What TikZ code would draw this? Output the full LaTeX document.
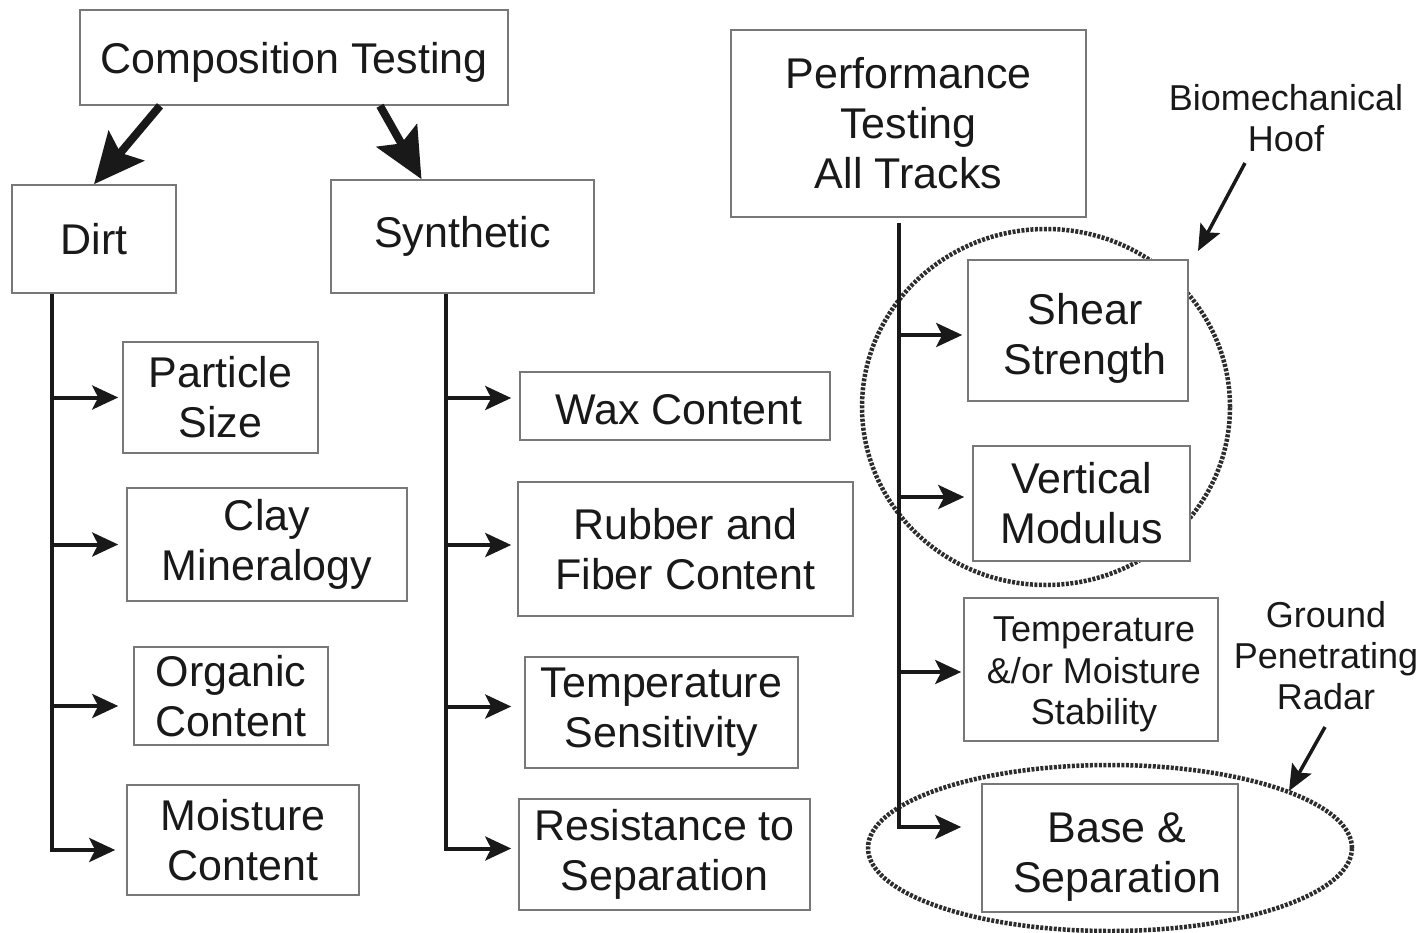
\documentclass[tikz,border=0pt]{standalone}
\usepackage{fontspec}
\setmainfont{Liberation Sans}
\usetikzlibrary{arrows.meta}
\definecolor{boxgray}{RGB}{120,120,120}
\definecolor{ringgray}{RGB}{45,45,45}
\definecolor{txt}{RGB}{25,25,25}
\begin{document}
\begin{tikzpicture}[x=1pt,y=-1pt,
  box/.style={draw=boxgray, line width=1.6pt, fill=white, align=center, inner sep=0pt, text=txt, font=\fontsize{43}{50}\selectfont},
  sbox/.style={box, font=\fontsize{36}{41.5}\selectfont},
  btext/.style={align=center, inner sep=0pt, text=txt, font=\fontsize{43}{50}\selectfont},
  stext/.style={btext, font=\fontsize{36}{41.5}\selectfont},
  note/.style={align=center, text=txt, inner sep=0pt, font=\fontsize{36}{41}\selectfont},
  arr/.style={line width=4pt, draw=black!90, -{Stealth[length=26pt,width=24pt,inset=6pt]}},
  bigarr/.style={line width=8pt, draw=black!90, -{Stealth[length=50pt,width=46pt,inset=9pt]}},
  notearr/.style={line width=3.5pt, draw=black!90, -{Stealth[length=26pt,width=22pt,inset=5pt]}},
  ring/.style={draw=ringgray, line width=4.5pt, dash pattern=on 3pt off 1.5pt}]
\useasboundingbox (0,0) rectangle (1426,933);

% ellipses
\draw[ring] (1046,407) ellipse [x radius=184pt, y radius=178pt];
\draw[ring] (1110,848) ellipse [x radius=242pt, y radius=83pt];

% top boxes
\node[box, minimum width=428pt, minimum height=95pt] (comp) at (294,57.5) {};
\node[btext] (compT) at ([yshift=-5pt]comp.center) {Composition Testing};
\node[box, minimum width=164pt, minimum height=108pt] (dirt) at (94,239) {Dirt};
\node[box, minimum width=263pt, minimum height=113pt] (syn) at (462.5,236.5) {Synthetic};
\node[box, minimum width=355pt, minimum height=187pt] (perf) at (908.5,123.5) {Performance\\Testing\\All Tracks};

% dirt children
\node[box, minimum width=195pt, minimum height=111pt] (ps) at (220.5,397.5) {Particle\\Size};
\node[box, minimum width=280pt, minimum height=113pt] (cm) at (267,544.5) {Clay\\Mineralogy};
\node[box, minimum width=194pt, minimum height=98pt] (oc) at (231,696) {Organic\\Content};
\node[box, minimum width=232pt, minimum height=110pt] (mc) at (243,840) {Moisture\\Content};

% synthetic children
\node[box, minimum width=310pt, minimum height=68pt] (wax) at (675,406) {};
\node[btext] (waxT) at ([xshift=4pt,yshift=-4pt]wax.center) {Wax Content};
\node[box, minimum width=335pt, minimum height=134pt] (rub) at (685.5,549) {Rubber and\\Fiber Content};
\node[box, minimum width=273pt, minimum height=111pt] (ts) at (661.5,712.5) {Temperature\\Sensitivity};
\node[box, minimum width=291pt, minimum height=111pt] (rs) at (664.5,854.5) {Resistance to\\Separation};

% performance children
\node[box, minimum width=220pt, minimum height=141pt] (sh) at (1078,330.5) {};
\node[btext] (shT) at ([xshift=7pt,yshift=-8pt]sh.center) {Shear\\Strength};
\node[box, minimum width=217pt, minimum height=115pt] (vm) at (1081.5,503.5) {Vertical\\Modulus};
\node[sbox, minimum width=254pt, minimum height=143pt] (tm) at (1091,669.5) {};
\node[stext] (tmT) at ([xshift=3pt,yshift=-5pt]tm.center) {Temperature\\\&/or Moisture\\Stability};
\node[box, minimum width=256pt, minimum height=128pt] (bs) at (1110,848) {};
\node[btext] (bsT) at ([xshift=7pt,yshift=-9pt]bs.center) {Base \&\\Separation};

% notes
\node[note] (bio) at (1286,118) {Biomechanical\\Hoof};
\node[note] (gpr) at (1326,656) {Ground\\Penetrating\\Radar};
\coordinate (bioS) at (1245,163);
\coordinate (bioE) at (1198,251);
\coordinate (gprS) at (1325,727);
\coordinate (gprE) at (1289,791);
\draw[notearr] (bioS) -- (bioE);
\draw[notearr] (gprS) -- (gprE);

% composition arrows
\draw[bigarr] ([xshift=-134pt]comp.south) -- (dirt.north);
\draw[bigarr] ([xshift=86pt]comp.south) -- ([xshift=-41pt]syn.north);

% dirt trunk
\coordinate (dt) at ([xshift=-42pt]dirt.south);
\coordinate (aps) at ([xshift=-4pt]ps.west);
\coordinate (acm) at ([xshift=-8pt]cm.west);
\coordinate (aoc) at ([xshift=-15pt,yshift=-10pt]oc.west);
\coordinate (amc) at ([xshift=-11pt,yshift=-10pt]mc.west);
\draw[arr] (dt) |- (amc);
\draw[arr] (dt |- aps) -- (aps);
\draw[arr] (dt |- acm) -- (acm);
\draw[arr] (dt |- aoc) -- (aoc);

% synthetic trunk
\coordinate (st) at ([xshift=-16.5pt]syn.south);
\coordinate (awx) at ([xshift=-8pt,yshift=8pt]wax.west);
\coordinate (arb) at ([xshift=-6pt,yshift=4pt]rub.west);
\coordinate (ats) at ([xshift=-13pt,yshift=6pt]ts.west);
\coordinate (ars) at ([xshift=-7pt,yshift=6pt]rs.west);
\draw[arr] (st) |- (ars);
\draw[arr] (st |- awx) -- (awx);
\draw[arr] (st |- arb) -- (arb);
\draw[arr] (st |- ats) -- (ats);

% performance trunk
\coordinate (pt) at ([xshift=-9.5pt,yshift=-5pt]perf.south);
\coordinate (ash) at ([xshift=-5pt,yshift=-4.5pt]sh.west);
\coordinate (avm) at ([xshift=-8pt,yshift=6.5pt]vm.west);
\coordinate (atm) at ([xshift=-2pt,yshift=-2.5pt]tm.west);
\coordinate (abs) at ([xshift=-20pt,yshift=21pt]bs.west);
\draw[arr] (pt) |- (abs);
\draw[arr] (pt |- ash) -- (ash);
\draw[arr] (pt |- avm) -- (avm);
\draw[arr] (pt |- atm) -- (atm);
\end{tikzpicture}
\end{document}
